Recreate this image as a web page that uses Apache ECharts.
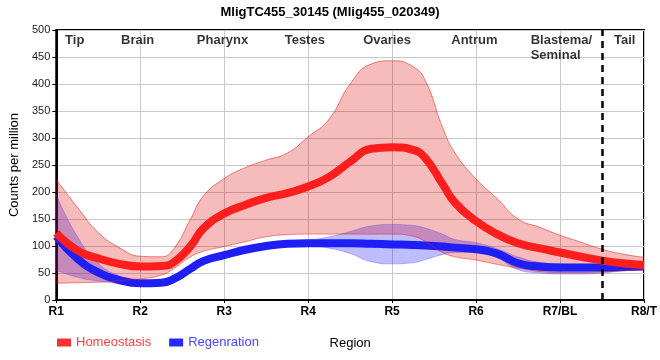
<!DOCTYPE html>
<html><head><meta charset="utf-8">
<script src="https://cdn.jsdelivr.net/npm/echarts@6/dist/echarts.min.js"></script>
<style>html,body{margin:0;padding:0;background:#fff}#c{width:660px;height:360px}</style>
</head><body><div id="c"></div>
<script>
var tickLabels = ['R1','R2','R3','R4','R5','R6','R7/BL','R8/T'];
var regionNames = ['Tip','Brain','Pharynx','Testes','Ovaries','Antrum','Blastema/\nSeminal','Tail'];
var regionX = [0.22, 0.97, 1.98, 2.96, 3.94, 4.98, 5.65, 6.77];
var regionY = [480, 480, 480, 480, 480, 480, 466, 480];
var xs = [0,0.25,0.5,0.75,1,1.25,1.4,1.6,1.75,2,2.25,2.5,2.75,3,3.25,3.5,3.75,4,4.25,4.4,4.6,4.75,5,5.25,5.5,5.75,6,6.25,6.5,6.75,7];
var homeoMean = [124,92,77,67,62,63,70,100,132,160,176,189,198,210,228,256,280,283,278,262,215,180,146,122,105,96,88,80,73,68,65];
var homeoHigh = [223,172,125,97,81,80,95,150,192,225,245,259,272,302,335,400,437,443,432,405,320,272,224,188,150,135,120,107,94,85,79];
var homeoLow  = [31,32,33,36,39,46,58,80,90,99,108,117,121,122,122,122,122,122,118,108,88,80,74,66,59,53,51,51,52,54,56];
var regenMean = [118,77,51,37,31,32,39,58,72,83,93,100,104,105,105,105,104,103,102,101,99,97,94,86,68,62,60,60,60,61,62];
var regenHigh = [195,118,68,45,36,37,44,63,77,88,98,105,109,111,117,127,137,140,138,133,122,112,106,95,80,70,67,66,66,65,65];
var regenLow  = [55,42,35,30,26,27,34,52,66,77,88,95,99,100,96,86,71,67,69,75,84,88,88,78,56,50,48,48,50,54,58];
var dividerX = 6.5;

// rows are [value, x] so that stacking applies to the value dimension
function rows(v){ return xs.map(function(x,i){ return [v[i], x]; }); }
function diffRows(hi, lo){ return xs.map(function(x,i){ return [hi[i]-lo[i], x]; }); }
var ENC = {x: 1, y: 0};

var chart = echarts.init(document.getElementById('c'), null, {renderer:'canvas'});
var FONT = 'Liberation Sans, Arial, sans-serif';
chart.setOption({
  animation: false,
  textStyle: {fontFamily: FONT},
  title: {text: 'MligTC455_30145 (Mlig455_020349)', left: 'center', top: 1,
    textStyle: {fontSize: 13, fontWeight: 'bold', color: '#000', fontFamily: FONT}},
  grid: {left: 50, right: 10, top: 30, bottom: 60, show: true, borderColor: '#000', borderWidth: 2, backgroundColor: 'transparent'},
  legend: {left: 52, top: 331, itemWidth: 14, itemHeight: 8, itemGap: 18, icon: 'rect',
    data: [
      {name: 'Homeostasis', textStyle: {color: '#ff4040'}},
      {name: 'Regenration', textStyle: {color: '#4646ff'}}
    ],
    textStyle: {fontSize: 13, fontFamily: FONT}},
  xAxis: {type: 'value', min: 0, max: 7, interval: 1,
    name: 'Region', nameLocation: 'middle', nameGap: 37,
    nameTextStyle: {fontSize: 13, color: '#000'},
    axisLine: {lineStyle: {color: '#000', width: 2}},
    axisTick: {show: true, length: 3, lineStyle: {color: '#000'}},
    axisLabel: {fontSize: 12, fontWeight: 'bold', color: '#000', margin: 6,
      formatter: function(v){ return tickLabels[Math.round(v)] || ''; }},
    splitLine: {show: true, lineStyle: {color: '#c8c8c8', width: 1}}},
  yAxis: {type: 'value', min: 0, max: 500, interval: 50,
    name: 'Counts per million', nameLocation: 'middle', nameGap: 32, nameRotate: 90,
    nameTextStyle: {fontSize: 13, color: '#000'},
    axisLine: {show: true, lineStyle: {color: '#000', width: 2}},
    axisTick: {show: true, length: 4, lineStyle: {color: '#000'}},
    axisLabel: {fontSize: 11, color: '#222', margin: 6},
    splitLine: {show: true, lineStyle: {color: '#c8c8c8', width: 1}}},
  series: [
    {name: 'regenLow', type: 'line', stack: 'r', smooth: true, showSymbol: false, data: rows(regenLow), encode: ENC,
      lineStyle: {width: 1, color: 'rgba(60,60,255,0.3)'}, silent: true},
    {name: 'regenBand', type: 'line', stack: 'r', smooth: true, showSymbol: false, data: diffRows(regenHigh, regenLow), encode: ENC,
      lineStyle: {width: 1, color: 'rgba(60,60,255,0.3)'}, areaStyle: {color: 'rgba(40,40,255,0.44)'}, silent: true},
    {name: 'Regenration', type: 'line', smooth: true, showSymbol: false, data: rows(regenMean), encode: ENC,
      itemStyle: {color: '#2a2aff'}, lineStyle: {width: 8, color: '#1e1ef5'}},
    {name: 'homeoLow', type: 'line', stack: 'h', smooth: true, showSymbol: false, data: rows(homeoLow), encode: ENC,
      lineStyle: {width: 1, color: 'rgba(225,30,30,0.5)'}, silent: true},
    {name: 'homeoBand', type: 'line', stack: 'h', smooth: true, showSymbol: false, data: diffRows(homeoHigh, homeoLow), encode: ENC,
      lineStyle: {width: 1, color: 'rgba(225,30,30,0.55)'}, areaStyle: {color: 'rgba(220,0,0,0.38)'}, silent: true},
    {name: 'Homeostasis', type: 'line', smooth: true, showSymbol: false, data: rows(homeoMean), encode: ENC,
      itemStyle: {color: '#ff3030'}, lineStyle: {width: 8, color: '#ff1e1e'},
      markLine: {silent: true, symbol: 'none', label: {show: false},
        lineStyle: {color: '#000', width: 2.5, type: [7,5]},
        data: [{xAxis: dividerX}]}},
    {name: 'regions', type: 'scatter', symbolSize: 0, silent: true,
      data: regionNames.map(function(n,i){
        var multi = n.indexOf('\n') >= 0;
        return {value: [regionX[i], regionY[i]], name: n, label: {align: multi ? 'left' : 'center'}};
      }),
      label: {show: true, position: 'inside', formatter: function(p){ return p.name; },
        fontSize: 13, fontWeight: 'bold', color: '#000', lineHeight: 15}}
  ]
});
</script></body></html>
